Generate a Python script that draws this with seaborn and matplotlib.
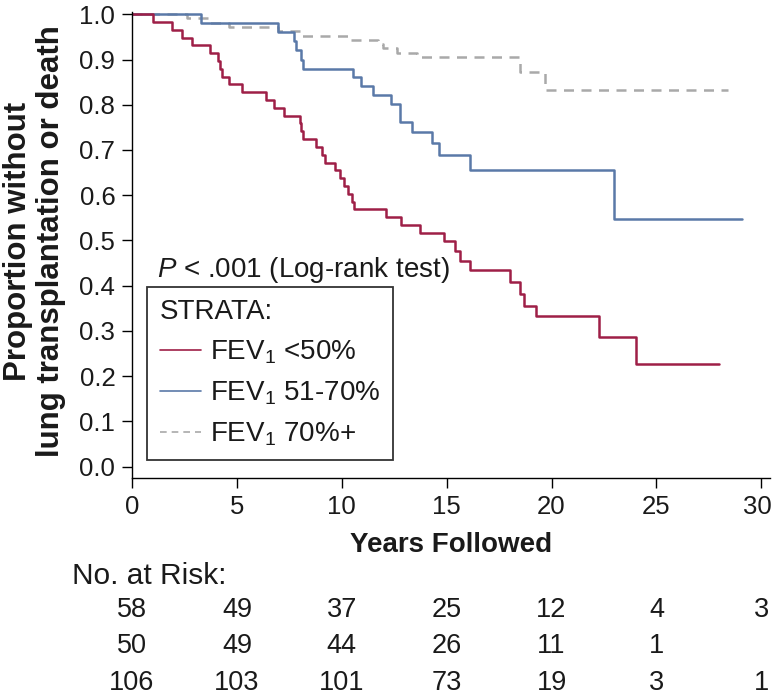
import matplotlib
matplotlib.use("Agg")
import matplotlib.pyplot as plt
import matplotlib.transforms as mtransforms
from matplotlib.lines import Line2D
import numpy as np
import pandas as pd
import seaborn as sns

# ---------------- data ----------------
red_t = [0, 1.01, 1.90, 2.40, 2.87, 3.71, 4.11, 4.19, 4.30, 4.62, 5.25, 6.37, 6.79, 7.25,
         8.0, 8.08, 8.13, 8.75, 9.08, 9.19, 9.68, 9.90, 10.10, 10.30, 10.48, 10.57, 12.10,
         12.81, 13.75, 14.86, 15.41, 15.62, 16.13, 18.0, 18.5, 18.67, 19.24, 22.25, 24.03, 28.0]
red_s = [1.0, 0.983, 0.966, 0.948, 0.931, 0.914, 0.897, 0.879, 0.862, 0.845, 0.828, 0.810,
         0.793, 0.776, 0.759, 0.741, 0.724, 0.707, 0.690, 0.672, 0.655, 0.638, 0.621, 0.603,
         0.586, 0.569, 0.552, 0.535, 0.517, 0.499, 0.477, 0.455, 0.434, 0.409, 0.382, 0.356,
         0.332, 0.286, 0.228, 0.228]

blue_t = [0, 3.30, 6.97, 7.71, 7.81, 8.05, 8.13, 10.54, 10.90, 11.49, 12.33, 12.76, 13.37,
          14.30, 14.62, 16.13, 23.0, 29.1]
blue_s = [1.0, 0.98, 0.96, 0.94, 0.92, 0.90, 0.88, 0.861, 0.841, 0.821, 0.801, 0.761, 0.740,
          0.716, 0.689, 0.656, 0.547, 0.547]

gray_t = [0, 2.60, 3.60, 4.63, 6.97, 8.08, 10.4, 11.75, 11.95, 12.65, 13.6, 18.48, 19.67, 28.4]
gray_s = [1.0, 0.991, 0.981, 0.972, 0.962, 0.953, 0.943, 0.934, 0.925, 0.915, 0.906, 0.873,
          0.832, 0.832]

strata_labels = [r"FEV$_1$ <50%", r"FEV$_1$ 51-70%", r"FEV$_1$ 70%+"]

risk_times = [0, 5, 10, 15, 20, 25, 30]
risk_red = [58, 49, 37, 25, 12, 4, 3]
risk_blue = [50, 49, 44, 26, 11, 1, None]
risk_gray = [106, 103, 101, 73, 19, 3, 1]

y_ticks = [0.0, 0.1, 0.2, 0.3, 0.4, 0.5, 0.6, 0.7, 0.8, 0.9, 1.0]
x_ticks = [0, 5, 10, 15, 20, 25, 30]

# ---------------- style ----------------
sns.set_theme(style="ticks")
FONT = "Liberation Sans"
plt.rcParams["font.family"] = [FONT, "DejaVu Sans"]
plt.rcParams["mathtext.fontset"] = "custom"
plt.rcParams["mathtext.rm"] = FONT
plt.rcParams["mathtext.it"] = FONT + ":italic"
plt.rcParams["mathtext.bf"] = FONT + ":bold"

RED = "#9E1F47"
BLUE = "#5A79A8"
GRAY = "#A9A9A9"
TXT = "#1a1a1a"
FS_TICK = 18.5
FS_TXT = 20
FS_LAB = 20
FS_YLAB = 22.5
FS_TAB = 19.5
FS_RISK = 21.5

fig = plt.figure(figsize=(7.73, 6.98), dpi=100)
ax = fig.add_axes([0.1708, 0.3152, 0.8254, 0.6676])

frames = []
for t, s, lab in [(red_t, red_s, strata_labels[0]),
                  (blue_t, blue_s, strata_labels[1]),
                  (gray_t, gray_s, strata_labels[2])]:
    frames.append(pd.DataFrame({"time": t, "surv": s, "strata": lab}))
df = pd.concat(frames, ignore_index=True)

styles = {strata_labels[0]: dict(color=RED, ls="-"),
          strata_labels[1]: dict(color=BLUE, ls="-"),
          strata_labels[2]: dict(color=GRAY, ls=(0, (4, 3)))}

# plot gray first so solid lines sit on top
for lab in [strata_labels[2], strata_labels[1], strata_labels[0]]:
    sub = df[df["strata"] == lab]
    sns.lineplot(data=sub, x="time", y="surv", ax=ax, estimator=None, sort=False,
                 drawstyle="steps-post", color=styles[lab]["color"],
                 linestyle=styles[lab]["ls"], linewidth=1.8, legend=False)

ax.set_xlim(0, 30.42)
ax.set_ylim(-0.025, 1.005)
ax.set_xticks(x_ticks)
ax.set_yticks(y_ticks)
ax.set_yticklabels([f"{v:.1f}" for v in y_ticks])
ax.set_xticklabels([str(v) for v in x_ticks])
ax.tick_params(axis="both", direction="out", length=7, width=1, colors="black",
               labelsize=FS_TICK, pad=5, labelcolor=TXT)
# keep the last x tick label inside the figure edge
last = ax.get_xticklabels()[-1]
last.set_transform(last.get_transform() +
                   mtransforms.ScaledTranslation(-4 / 100, 0, fig.dpi_scale_trans))
for side in ["top", "right"]:
    ax.spines[side].set_visible(False)
for side in ["left", "bottom"]:
    ax.spines[side].set_color("black")
    ax.spines[side].set_linewidth(1)

ax.set_xlabel("Years Followed", fontsize=FS_LAB, fontweight="bold", color=TXT)
ax.xaxis.set_label_coords(0.50, -0.115)
ax.set_ylabel("Proportion without\nlung transplantation or death", fontsize=FS_YLAB,
              fontweight="bold", linespacing=1.1, color=TXT)
ax.yaxis.set_label_coords(-0.104, 0.508)

ax.text(1.19, 0.434, r"$P$ < .001 (Log-rank test)", fontsize=FS_TXT, va="center",
        ha="left", color=TXT)

handles = [Line2D([], [], color=styles[l]["color"], linestyle=styles[l]["ls"], linewidth=1.2)
           for l in strata_labels]
leg = ax.legend(handles, strata_labels, title="STRATA:", loc="upper left",
                bbox_to_anchor=(0.0235, 0.41), borderaxespad=0.0,
                fontsize=FS_TXT, title_fontsize=FS_TXT,
                frameon=True, fancybox=False, edgecolor="#333333", framealpha=1,
                handlelength=1.5, handletextpad=0.32, labelspacing=0.48,
                borderpad=0.45, alignment="left")
leg.get_frame().set_linewidth(1.3)
for txt in leg.get_texts():
    txt.set_color(TXT)
leg.get_title().set_color(TXT)

# risk table
trans = mtransforms.blended_transform_factory(ax.transData, fig.transFigure)
fig.text(0.093, 0.175, "No. at Risk:", fontsize=FS_RISK, ha="left", va="center", color=TXT)
for row, yf in [(risk_red, 0.126), (risk_blue, 0.0745), (risk_gray, 0.0215)]:
    for t, n in zip(risk_times, row):
        if n is None:
            continue
        ax.text(t, yf, str(n), transform=trans, fontsize=FS_TAB, ha="center", va="center",
                clip_on=False, color=TXT)

fig.savefig("out.png", dpi=100)
